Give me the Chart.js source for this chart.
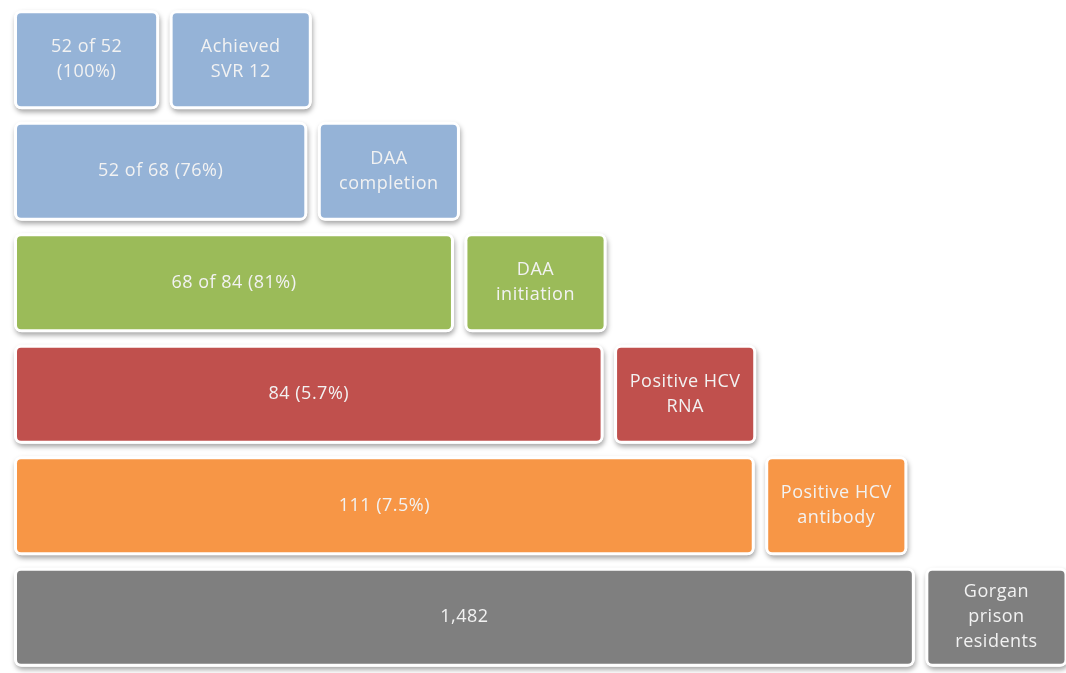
<!DOCTYPE html>
<html>
<head>
<meta charset="utf-8">
<script src="https://cdn.jsdelivr.net/npm/chart.js@4.4.1/dist/chart.umd.min.js"></script>
<style>
    html, body { margin: 0; padding: 0; background: #fff; }
    #wrap { width: 1066px; height: 673px; position: relative; }
</style>
</head>
<body>
<div id="wrap"><canvas id="cascade"></canvas></div>
<script>
// cascade steps, top (last step) to bottom (whole population)
const STAGES = ["svr", "completion", "initiation", "rna", "antibody", "residents"];
const STAGE_LABELS = [
    ["Achieved", "SVR 12"],
    ["DAA", "completion"],
    ["DAA", "initiation"],
    ["Positive HCV", "RNA"],
    ["Positive HCV", "antibody"],
    ["Gorgan", "prison", "residents"]
];
const COUNT_LABELS = [
    ["52 of 52", "(100%)"],
    ["52 of 68 (76%)"],
    ["68 of 84 (81%)"],
    ["84 (5.7%)"],
    ["111 (7.5%)"],
    ["1,482"]
];
// width of each step of the staircase (in box units)
const STEP = [0.97, 1.96, 2.94, 3.94, 4.95, 6.02];
const COLORS = ["#95B3D7", "#95B3D7", "#9BBB59", "#C0504D", "#F79646", "#7F7F7F"];

const GAP = 0.07;
const LABEL_W = 0.95;

const mainBars = STEP.map(s => [0, s]);
const labelBars = STEP.map(s => [s + GAP, s + GAP + LABEL_W]);

function barRect(el) {
    const p = el.getProps(["x", "y", "base", "height"], true);
    const left = Math.min(p.x, p.base);
    return { left, top: p.y - p.height / 2, w: Math.abs(p.x - p.base), h: p.height };
}

/* soft shadow under each box */
const shadowPlugin = {
    id: "boxShadow",
    beforeDatasetsDraw(chart) {
        const ctx = chart.ctx;
        ctx.save();
        ctx.fillStyle = "#fff";
        ctx.shadowColor = "rgba(0,0,0,0.35)";
        ctx.shadowBlur = 5;
        ctx.shadowOffsetX = 1;
        ctx.shadowOffsetY = 3;
        chart.data.datasets.forEach((ds, di) => {
            chart.getDatasetMeta(di).data.forEach(el => {
                const r = barRect(el);
                ctx.beginPath();
                ctx.roundRect(r.left, r.top, r.w, r.h, 8);
                ctx.fill();
            });
        });
        ctx.restore();
    }
};

/* text inside boxes */
const textPlugin = {
    id: "boxText",
    afterDatasetsDraw(chart) {
        const ctx = chart.ctx;
        ctx.save();
        ctx.fillStyle = "#f2f2f2";
        ctx.font = "18px 'Open Sans', sans-serif";
        ctx.letterSpacing = "0.5px";
        ctx.textAlign = "center";
        ctx.textBaseline = "middle";
        const lineH = 25;
        chart.data.datasets.forEach((ds, di) => {
            const texts = di === 0 ? COUNT_LABELS : STAGE_LABELS;
            chart.getDatasetMeta(di).data.forEach((el, i) => {
                const r = barRect(el);
                const lines = texts[i];
                const cx = r.left + r.w / 2;
                const y0 = r.top + r.h / 2 - (lines.length - 1) * lineH / 2;
                lines.forEach((t, k) => ctx.fillText(t, cx, y0 + k * lineH));
            });
        });
        ctx.restore();
    }
};

const barStyle = {
    backgroundColor: COLORS,
    borderColor: "#fff",
    borderWidth: 3,
    borderSkipped: false,
    borderRadius: 7,
    grouped: false,
    barPercentage: 0.89,
    categoryPercentage: 1
};

new Chart(document.getElementById("cascade"), {
    type: "bar",
    data: {
        labels: STAGES,
        datasets: [
            Object.assign({ data: mainBars }, barStyle),
            Object.assign({ data: labelBars }, barStyle)
        ]
    },
    options: {
        indexAxis: "y",
        responsive: true,
        maintainAspectRatio: false,
        animation: false,
        layout: { padding: { top: 4, left: 14, right: 0, bottom: 0 } },
        plugins: {
            legend: { display: false },
            tooltip: { enabled: false }
        },
        scales: {
            x: { display: false, min: 0, max: 7.03 },
            y: { display: false }
        }
    },
    plugins: [shadowPlugin, textPlugin]
});
</script>
</body>
</html>
